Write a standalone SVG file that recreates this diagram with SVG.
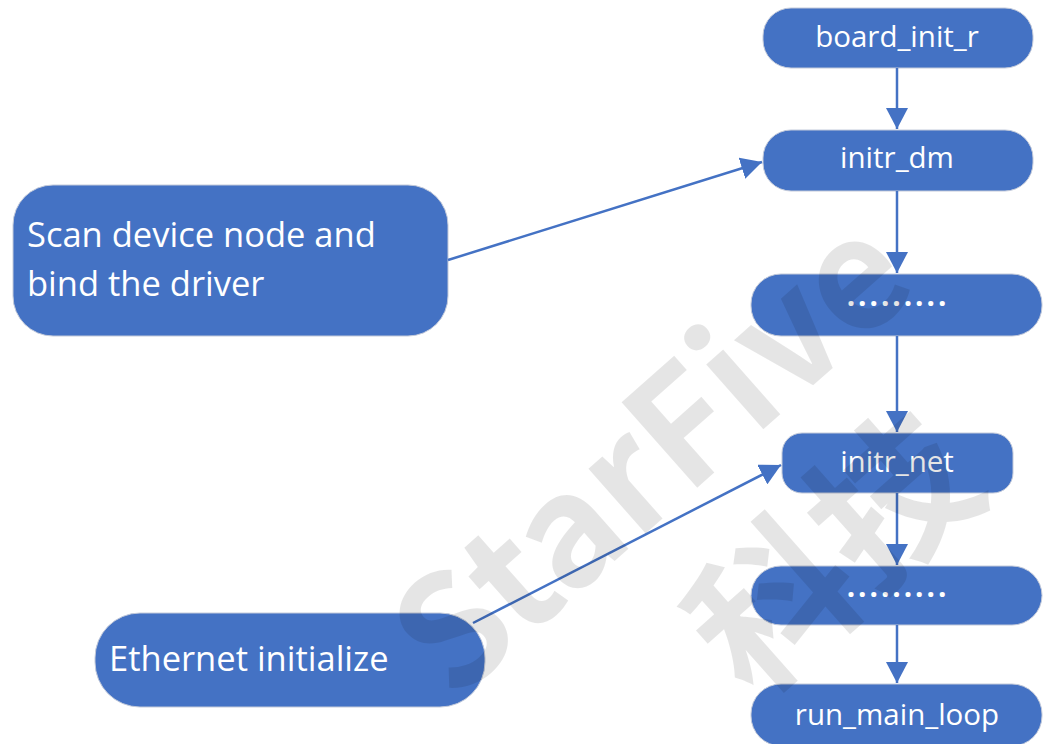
<svg xmlns="http://www.w3.org/2000/svg" width="1043" height="744" viewBox="0 0 1043 744">
  <style>
    .node { fill: #4472C4; stroke: #c3cada; stroke-width: 1; }
    .lbl { fill: #ffffff; font-family: "Open Sans", "Liberation Sans", sans-serif; font-size: 29.5px; text-anchor: middle; }
    .big { fill: #ffffff; font-family: "Open Sans", "Liberation Sans", sans-serif; font-size: 34.5px; }
    .dots { letter-spacing: 3px; font-weight: bold; }
    .conn { stroke: #4472C4; stroke-width: 2.5; fill: none; }
    .wm { fill: #000000; fill-opacity: 0.1; font-family: "Noto Sans CJK SC", "DejaVu Sans", sans-serif; font-weight: bold; }
  </style>
  <defs>
    <marker id="arrow" markerUnits="userSpaceOnUse" markerWidth="22" markerHeight="22" refX="21" refY="11" orient="auto">
      <path d="M0,0 L21,11 L0,22 z" fill="#4472C4"/>
    </marker>
  </defs>
  <rect width="1043" height="744" fill="#ffffff"/>

  <g id="board_init_r">
    <rect class="node" x="763" y="8" width="270" height="60" rx="28"/>
    <text class="lbl" x="897" y="47">board_init_r</text>
  </g>
  <g id="initr_dm">
    <rect class="node" x="763" y="130" width="270" height="61" rx="28"/>
    <text class="lbl" x="897" y="168">initr_dm</text>
  </g>
  <g id="dots1">
    <rect class="node" x="751" y="274" width="291" height="62" rx="30"/>
    <text class="lbl dots" x="898" y="306">.........</text>
  </g>
  <g id="initr_net">
    <rect class="node" x="782" y="433" width="231" height="60" rx="20"/>
    <text class="lbl" x="897" y="472">initr_net</text>
  </g>
  <g id="dots2">
    <rect class="node" x="751" y="566" width="291" height="59" rx="30"/>
    <text class="lbl dots" x="898" y="597">.........</text>
  </g>
  <g id="run_main_loop">
    <rect class="node" x="751" y="684" width="291" height="62" rx="30"/>
    <text class="lbl" x="897" y="725">run_main_loop</text>
  </g>
  <g id="scan">
    <rect class="node" x="13" y="185" width="435" height="151" rx="40"/>
    <text class="big" x="27" y="247">Scan device node and</text>
    <text class="big" x="27" y="296">bind the driver</text>
  </g>
  <g id="ethernet">
    <rect class="node" x="95" y="613" width="390" height="94" rx="45"/>
    <text class="big" x="109" y="671">Ethernet initialize</text>
  </g>

  <g id="connectors">
    <line class="conn" x1="897" y1="68" x2="897" y2="129" marker-end="url(#arrow)"/>
    <line class="conn" x1="897" y1="191" x2="897" y2="273" marker-end="url(#arrow)"/>
    <line class="conn" x1="897" y1="336" x2="897" y2="432" marker-end="url(#arrow)"/>
    <line class="conn" x1="897" y1="493" x2="897" y2="565" marker-end="url(#arrow)"/>
    <line class="conn" x1="897" y1="625" x2="897" y2="683" marker-end="url(#arrow)"/>
    <line class="conn" x1="448" y1="260" x2="762" y2="162" marker-end="url(#arrow)"/>
    <line class="conn" x1="473" y1="623" x2="781" y2="465" marker-end="url(#arrow)"/>
  </g>

  <g id="watermark">
    <text class="wm" font-size="154" text-anchor="middle" transform="translate(688,496) rotate(-41.5)">StarFive</text>
    <text class="wm" font-size="160" text-anchor="middle" transform="translate(872,596) rotate(-41.5)">科技</text>
  </g>
</svg>
